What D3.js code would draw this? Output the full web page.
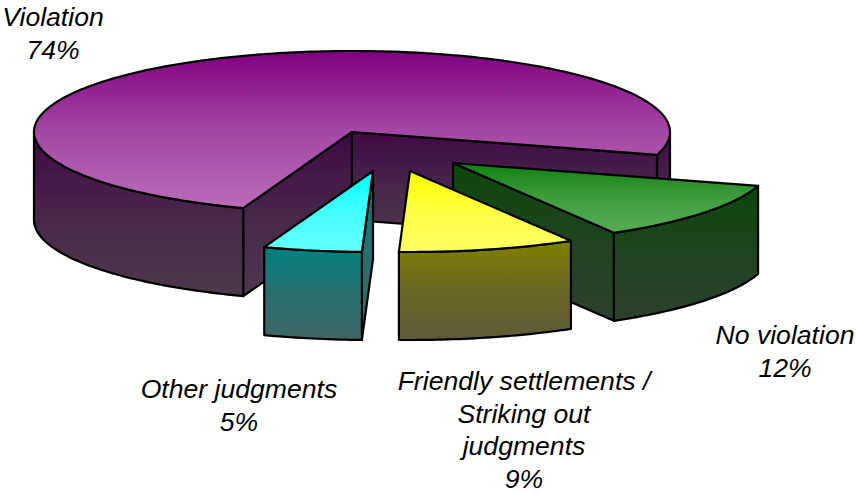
<!DOCTYPE html>
<html>
<head>
<meta charset="utf-8">
<script src="https://cdn.jsdelivr.net/npm/d3@7"></script>
<style>
  html, body { margin: 0; padding: 0; background: #fff; }
  text { font-family: "Liberation Sans", Arial, sans-serif; font-style: italic; font-size: 26.6px; fill: #000; }
</style>
</head>
<body>
<svg id="chart" width="856" height="493"></svg>
<script>
const categories = ["Violation", "No violation", "Friendly settlements", "Other judgments"];
const values = [74, 12, 9, 5];
const labelLines = [
  ["Violation", "74%"],
  ["No violation", "12%"],
  ["Friendly settlements /", "Striking out", "judgments", "9%"],
  ["Other judgments", "5%"]
];

const topColors = [["#800080", "#b86cb8"], ["#108010", "#58ac58"], ["#ffff00", "#ffff66"], ["#00ffff", "#66ffff"]];
const sideColors = [["#400845", "#4d384c"], ["#0a480a", "#2c402c"], ["#808000", "#5e5a38"], ["#008080", "#3e6666"]];

const explode = [[0, 0], [101, 31], [58, 39], [21, 39]];
const labelPos = [[53, 26], [785, 344], [524, 390], [239, 398]];
const lineHeight = 32.6;

const svg = d3.select("#chart");
const cx = 352, cy = 132, rx = 318, ry = 81, depth = 88;

const x = d3.scaleLinear().domain([-1, 1]).range([cx - rx, cx + rx]);
const y = d3.scaleLinear().domain([-1, 1]).range([cy - ry, cy + ry]);

const start = 200 * Math.PI / 180;
const pie = d3.pie().sort(null).startAngle(start).endAngle(start + 2 * Math.PI);
const arcs = pie(values);

const line = d3.line().x(d => d[0]).y(d => d[1]);
const rim = a => [x(Math.sin(a)), y(-Math.cos(a))];

const defs = svg.append("defs");
function gradient(id, stops) {
  const g = defs.append("linearGradient")
    .attr("id", id)
    .attr("x1", 0).attr("y1", 0).attr("x2", 0).attr("y2", 1);
  // the fade runs quicker in the upper half, a plain two stop ramp looks too saturated
  g.append("stop").attr("offset", "0%").attr("stop-color", stops[0]);
  g.append("stop").attr("offset", "50%").attr("stop-color", d3.interpolateRgb(stops[0], stops[1])(0.65));
  g.append("stop").attr("offset", "100%").attr("stop-color", stops[1]);
}
categories.forEach((c, i) => {
  gradient(`top${i}`, topColors[i]);
  gradient(`side${i}`, sideColors[i]);
});

function sampleAngles(a0, a1) {
  const n = Math.ceil((a1 - a0) / (Math.PI / 180));
  return d3.range(n + 1).map(k => a0 + (a1 - a0) * k / n);
}

function radialFace(a) {
  const p = rim(a);
  return line([[cx, cy], p, [p[0], p[1] + depth], [cx, cy + depth]]) + "Z";
}

// outer wall only exists where the rim faces the viewer
function wallRuns(a0, a1) {
  const runs = [];
  let cur = null;
  sampleAngles(a0, a1).forEach(a => {
    if (Math.cos(a) <= 0.0001) {
      if (!cur) { cur = []; runs.push(cur); }
      cur.push(a);
    } else {
      cur = null;
    }
  });
  return runs.filter(r => r.length > 1);
}

const drawOrder = [0, 1, 3, 2];

drawOrder.forEach(i => {
  const d = arcs[i];
  const g = svg.append("g")
    .attr("transform", `translate(${explode[i][0]}, ${explode[i][1]})`)
    .attr("stroke", "#000")
    .attr("stroke-width", 2.2)
    .attr("stroke-linejoin", "round");

  // cut faces, skipping the ones turned away from the viewer
  if (Math.sin(d.startAngle) < 0) {
    g.append("path").attr("d", radialFace(d.startAngle)).attr("fill", `url(#side${i})`);
  }
  if (Math.sin(d.endAngle) > 0) {
    g.append("path").attr("d", radialFace(d.endAngle)).attr("fill", `url(#side${i})`);
  }

  wallRuns(d.startAngle, d.endAngle).forEach(run => {
    const upper = run.map(rim);
    const lower = upper.map(p => [p[0], p[1] + depth]).reverse();
    g.append("path")
      .attr("d", line(upper.concat(lower)) + "Z")
      .attr("fill", `url(#side${i})`);
  });

  const top = [[cx, cy]].concat(sampleAngles(d.startAngle, d.endAngle).map(rim));
  g.append("path")
    .attr("d", line(top) + "Z")
    .attr("fill", `url(#top${i})`);
});

labelLines.forEach((lines, i) => {
  const t = svg.append("text")
    .attr("x", labelPos[i][0])
    .attr("y", labelPos[i][1])
    .attr("text-anchor", "middle");
  lines.forEach((s, k) => {
    t.append("tspan")
      .attr("x", labelPos[i][0])
      .attr("y", labelPos[i][1] + k * lineHeight)
      .text(s);
  });
});
</script>
</body>
</html>
